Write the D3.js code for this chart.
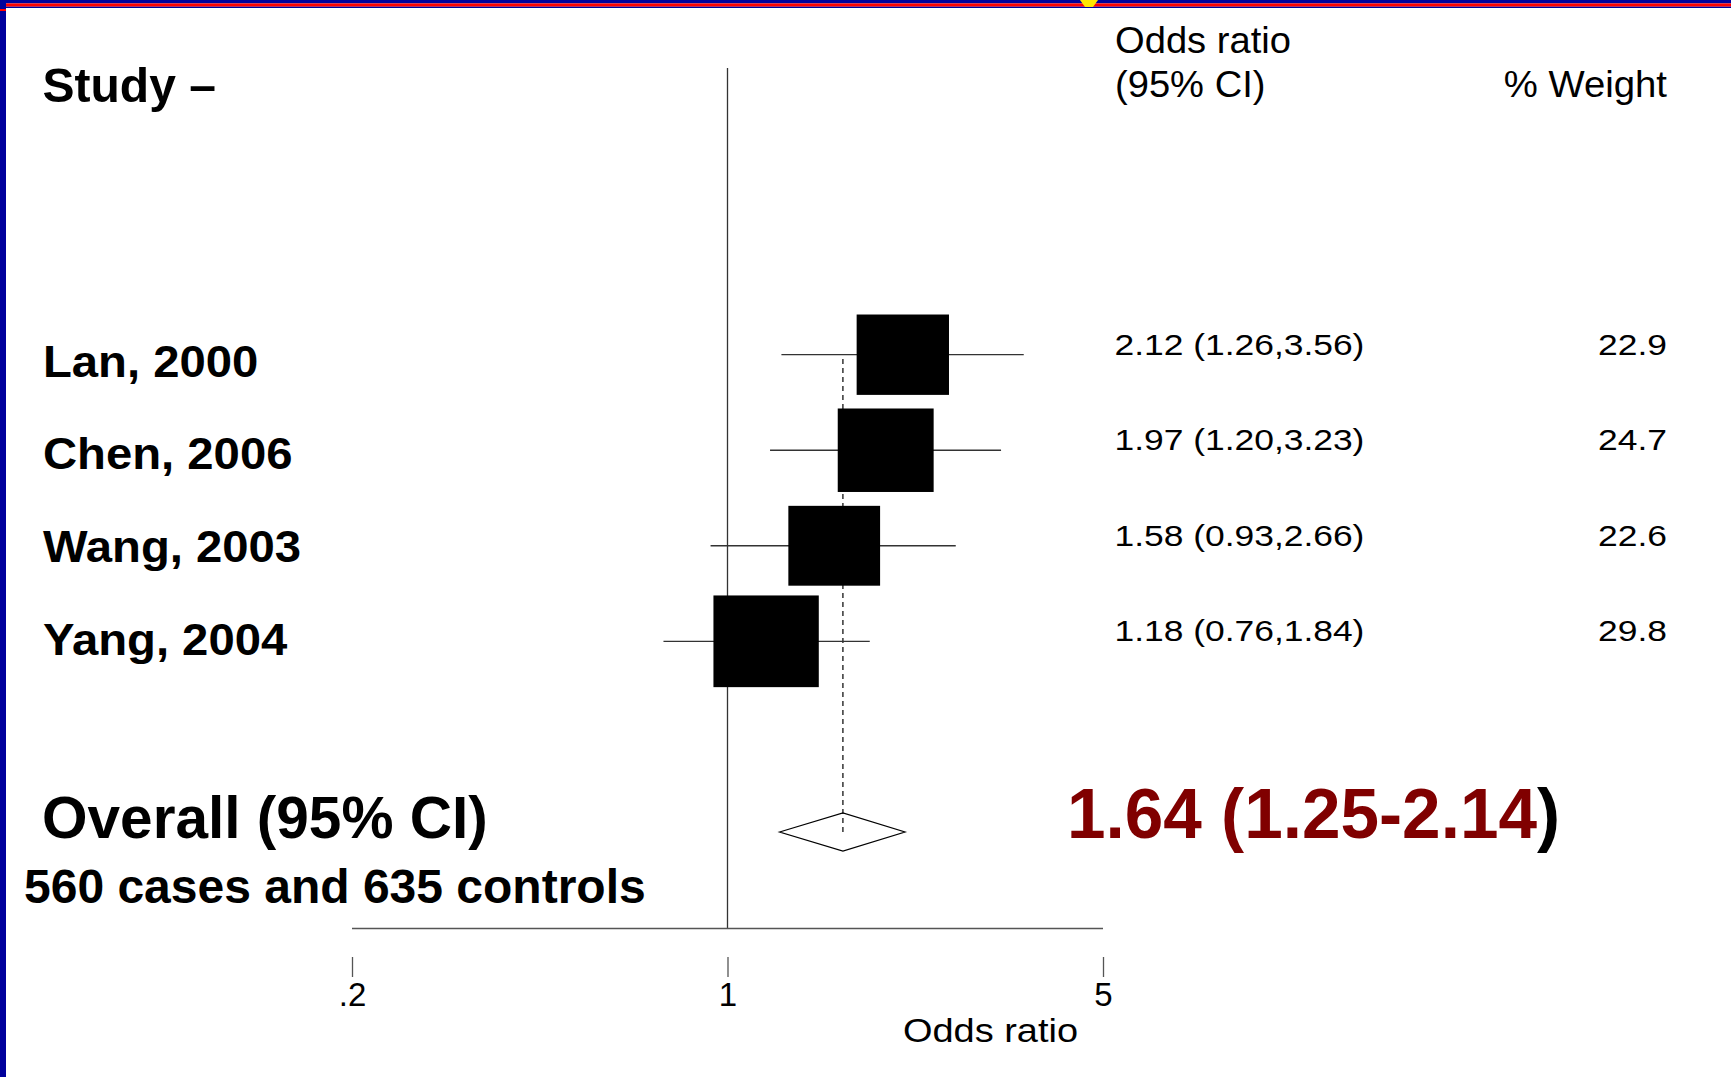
<!DOCTYPE html>
<html>
<head>
<meta charset="utf-8">
<script src="https://cdn.jsdelivr.net/npm/d3@7/dist/d3.min.js"></script>
<style>
  html, body { margin: 0; padding: 0; background: #ffffff; }
  svg { display: block; }
  text { font-family: "Liberation Sans", Arial, Helvetica, sans-serif; }
</style>
</head>
<body>
<script>
// Study-level results
const studies   = ["Lan, 2000", "Chen, 2006", "Wang, 2003", "Yang, 2004"];
const oddsRatio = [2.12, 1.97, 1.58, 1.18];
const ciLower   = [1.26, 1.20, 0.93, 0.76];
const ciUpper   = [3.56, 3.23, 2.66, 1.84];
const weights   = [22.9, 24.7, 22.6, 29.8];

// Pooled estimate: [OR, lower, upper]
const pooled = [1.64, 1.25, 2.14];

// Axis ticks
const tickValues = [0.2, 1, 5];
const tickLabels = [".2", "1", "5"];

const W = 1731, H = 1077;
const svg = d3.select("body").append("svg").attr("width", W).attr("height", H);
svg.append("rect").attr("width", W).attr("height", H).attr("fill", "#ffffff");

// Slide frame
const navy = "#00009C", red = "#FF0000";
svg.append("rect").attr("x", 0).attr("y", 0).attr("width", W).attr("height", 3.4).attr("fill", navy);
svg.append("rect").attr("x", 0).attr("y", 3.4).attr("width", W).attr("height", 3.3).attr("fill", red);
svg.append("rect").attr("x", 0).attr("y", 6.7).attr("width", W).attr("height", 1.3).attr("fill", navy);
svg.append("rect").attr("x", 0).attr("y", 0).attr("width", 6).attr("height", H).attr("fill", navy);
svg.append("rect").attr("x", 0).attr("y", 9).attr("width", 6).attr("height", 2).attr("fill", red);
svg.append("path").attr("d", "M1080,0 L1098,0 L1093,7 L1085,7 Z").attr("fill", "#FFE600");

// Scales
const x = d3.scaleLog().domain([0.2, 5]).range([352, 1103]);
const rowY = d3.scalePoint().domain(studies).range([354.7, 641.3]);
const labelY = d3.scalePoint().domain(studies).range([376.5, 654.5]);
const boxW = d3.scaleSqrt().domain([0, 30]).range([0, 105.7]);
const boxH = d3.scaleSqrt().domain([0, 30]).range([0, 92]);
const pooledY = 832;

const rows = studies.map((s, i) => ({
  study: s, or: oddsRatio[i], lo: ciLower[i], hi: ciUpper[i], w: weights[i]
}));

// Text helper with horizontal scaling
function label(sel, str, xPos, yPos, size, opts = {}) {
  const sx = opts.sx || 1;
  return sel.append("text")
    .attr("transform", `translate(${xPos},${yPos}) scale(${sx},1)`)
    .attr("font-size", size)
    .attr("font-weight", opts.bold ? "bold" : "normal")
    .attr("text-anchor", opts.anchor || "start")
    .attr("fill", opts.fill || "#000")
    .text(str);
}

// Headers
label(svg, "Study \u2013", 42.5, 101.7, 49, { bold: true, sx: 0.98 });
label(svg, "Odds ratio", 1115, 53.3, 36.5, { sx: 1.045 });
label(svg, "(95% CI)", 1115, 96.7, 36.5, { sx: 1.045 });
label(svg, "% Weight", 1667, 96.7, 36.5, { sx: 1.05, anchor: "end" });

// Null line at OR = 1
svg.append("line")
  .attr("x1", x(1)).attr("x2", x(1))
  .attr("y1", 68).attr("y2", 928.5)
  .attr("stroke", "#333").attr("stroke-width", 1.3);

// Dashed line at pooled OR
svg.append("line")
  .attr("x1", x(pooled[0])).attr("x2", x(pooled[0]))
  .attr("y1", 359).attr("y2", pooledY)
  .attr("stroke", "#000").attr("stroke-width", 1.2)
  .attr("stroke-dasharray", "5,4");

// Confidence intervals
svg.append("g").selectAll("line").data(rows).join("line")
  .attr("x1", d => x(d.lo)).attr("x2", d => x(d.hi))
  .attr("y1", d => rowY(d.study)).attr("y2", d => rowY(d.study))
  .attr("stroke", "#333").attr("stroke-width", 1.3);

// Weight boxes
svg.append("g").selectAll("rect").data(rows).join("rect")
  .attr("x", d => x(d.or) - boxW(d.w) / 2)
  .attr("y", d => rowY(d.study) - boxH(d.w) / 2)
  .attr("width", d => boxW(d.w))
  .attr("height", d => boxH(d.w))
  .attr("fill", "#000");

// Pooled diamond
svg.append("path")
  .attr("d", `M${x(pooled[1])},${pooledY} L${x(pooled[0])},${pooledY - 19} L${x(pooled[2])},${pooledY} L${x(pooled[0])},${pooledY + 19} Z`)
  .attr("fill", "none").attr("stroke", "#000").attr("stroke-width", 1.2);

// Study labels
rows.forEach(d => label(svg, d.study, 43, labelY(d.study), 45, { bold: true, sx: 1.05 }));

// OR (95% CI) and weight columns
rows.forEach(d => {
  label(svg, `${d.or.toFixed(2)} (${d.lo.toFixed(2)},${d.hi.toFixed(2)})`, 1114.5, rowY(d.study), 29.5, { sx: 1.2 });
  label(svg, d.w.toFixed(1), 1667, rowY(d.study), 29.5, { sx: 1.2, anchor: "end" });
});

// Overall row
label(svg, "Overall (95% CI)", 42, 838, 60, { bold: true, sx: 0.976 });
label(svg, "560 cases and 635 controls", 24, 903, 48, { bold: true, sx: 1.0 });
const big = label(svg, "", 1067, 838, 70, { bold: true, sx: 0.99 });
big.append("tspan").attr("fill", "#800000")
  .text(`${pooled[0].toFixed(2)} (${pooled[1].toFixed(2)}-${pooled[2].toFixed(2)}`);
big.append("tspan").attr("fill", "#000").text(")");

// X axis: baseline line, then detached ticks below
svg.append("line")
  .attr("x1", x.range()[0]).attr("x2", x.range()[1])
  .attr("y1", 928.5).attr("y2", 928.5)
  .attr("stroke", "#555").attr("stroke-width", 1.3);

const axis = d3.axisBottom(x)
  .tickValues(tickValues)
  .tickFormat((d, i) => tickLabels[i])
  .tickSizeInner(20).tickSizeOuter(0).tickPadding(6);

const ax = svg.append("g").attr("transform", "translate(0,957)").call(axis);
ax.select(".domain").remove();
ax.selectAll(".tick line").attr("stroke", "#555").attr("stroke-width", 1.3);
ax.selectAll(".tick text")
  .attr("font-size", 33)
  .attr("font-family", "'Liberation Sans', Arial, sans-serif")
  .attr("fill", "#000");

label(svg, "Odds ratio", 990.5, 1041.7, 34, { sx: 1.116, anchor: "middle" });
</script>
</body>
</html>
